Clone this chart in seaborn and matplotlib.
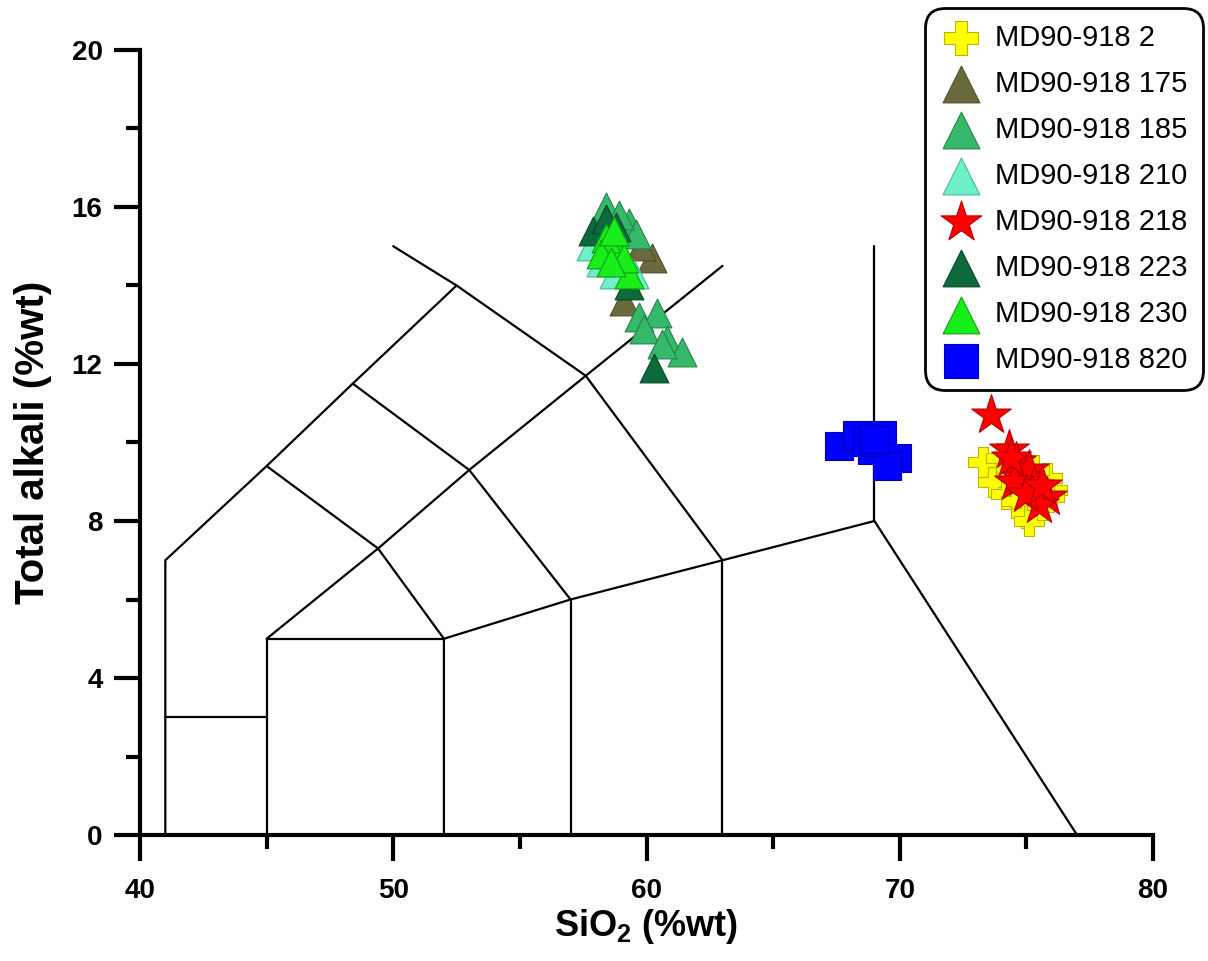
import matplotlib
matplotlib.use("Agg")
import matplotlib.pyplot as plt
import numpy as np
import pandas as pd
import seaborn as sns
from matplotlib.ticker import MultipleLocator

# ---------------------------
# Données
# ---------------------------
samples = ["MD90-918 2", "MD90-918 175", "MD90-918 185", "MD90-918 210",
           "MD90-918 218", "MD90-918 223", "MD90-918 230", "MD90-918 820"]

sio2_2 = [73.3, 73.7, 74.2, 74.6, 75.0, 75.1, 75.6, 76.0, 75.8, 74.4, 74.0, 75.3, 75.9]
alk_2 = [9.5, 9.0, 8.7, 8.5, 8.2, 8.0, 8.4, 8.8, 9.1, 9.3, 9.6, 9.3, 8.6]

sio2_175 = [60.2, 59.1, 59.8, 58.9]
alk_175 = [14.7, 13.6, 15.0, 14.6]

sio2_185 = [58.4, 59.3, 59.6, 59.7, 60.4, 59.9, 60.8, 61.4, 60.6, 58.9]
alk_185 = [16.0, 15.6, 15.3, 13.2, 13.3, 12.9, 12.6, 12.3, 12.5, 15.8]

sio2_210 = [57.8, 58.7, 59.5, 58.2]
alk_210 = [15.0, 14.3, 14.3, 14.6]

sio2_218 = [73.6, 74.3, 74.6, 74.8, 75.1, 75.3, 75.8, 75.5, 74.5, 75.0, 74.4, 75.6]
alk_218 = [10.7, 9.8, 9.5, 9.1, 9.3, 8.9, 8.6, 8.4, 9.0, 8.7, 9.6, 8.9]

sio2_223 = [57.9, 58.4, 60.3, 59.3, 58.8]
alk_223 = [15.4, 15.7, 11.9, 14.0, 15.5]

sio2_230 = [58.8, 58.4, 59.3, 58.2, 59.1, 58.7, 58.6]
alk_230 = [14.9, 15.2, 14.3, 14.8, 14.7, 15.4, 14.6]

sio2_820 = [67.6, 68.3, 69.3, 68.9, 69.9, 69.5, 68.7, 69.0]
alk_820 = [9.9, 10.2, 10.2, 9.8, 9.6, 9.4, 10.0, 10.1]

# limites des champs du diagramme TAS (Le Bas)
tas_lines = [
    [(41, 0), (41, 7), (45, 9.4), (48.4, 11.5), (52.5, 14)],
    [(41, 3), (45, 3)],
    [(45, 0), (45, 5), (52, 5)],
    [(45, 5), (49.4, 7.3), (53, 9.3), (57.6, 11.7), (63, 14.5)],
    [(52, 0), (52, 5), (57, 6), (63, 7), (69, 8), (77, 0)],
    [(57, 0), (57, 6)],
    [(63, 0), (63, 7)],
    [(69, 8), (69, 15)],
    [(45, 9.4), (49.4, 7.3), (52, 5)],
    [(48.4, 11.5), (53, 9.3), (57, 6)],
    [(50, 15), (52.5, 14), (57.6, 11.7), (63, 7)],
]

sio2 = [sio2_2, sio2_175, sio2_185, sio2_210, sio2_218, sio2_223, sio2_230, sio2_820]
alk = [alk_2, alk_175, alk_185, alk_210, alk_218, alk_223, alk_230, alk_820]
df = pd.concat([pd.DataFrame({"SiO2": x, "Alk": y, "sample": s})
                for x, y, s in zip(sio2, alk, samples)], ignore_index=True)

# style de chaque échantillon : (marqueur, remplissage, contour, taille, taille légende)
styles = {
    "MD90-918 2": ("P", "#ffff00", "#b8b800", 440, 620),
    "MD90-918 175": ("^", "#6b6a3c", "#4e4d2a", 430, 700),
    "MD90-918 185": ("^", "#36b86a", "#23864a", 430, 700),
    "MD90-918 210": ("^", "#6ff0c8", "#45b894", 430, 700),
    "MD90-918 218": ("*", "#ff0000", "#b00000", 900, 950),
    "MD90-918 223": ("^", "#0d6a3a", "#08472a", 430, 700),
    "MD90-918 230": ("^", "#1aee1a", "#0fa00f", 430, 700),
    "MD90-918 820": ("s", "#0000ff", "#0000b0", 420, 620),
}
draw_order = ["MD90-918 2", "MD90-918 820", "MD90-918 218", "MD90-918 175",
              "MD90-918 185", "MD90-918 210", "MD90-918 223", "MD90-918 230"]

sns.set_style("ticks")
plt.rcParams["font.family"] = ["Liberation Sans", "DejaVu Sans"]
plt.rcParams["mathtext.fontset"] = "custom"
plt.rcParams["mathtext.bf"] = "Liberation Sans:bold"
plt.rcParams["mathtext.rm"] = "Liberation Sans:bold"
for key in ["text.color", "axes.labelcolor", "xtick.color", "ytick.color", "axes.edgecolor"]:
    plt.rcParams[key] = "black"

fig = plt.figure(figsize=(12.08, 9.61), dpi=100)
ax = fig.add_axes([0.1159, 0.1311, 0.8386, 0.8169])

for seg in tas_lines:
    xs, ys = zip(*seg)
    ax.plot(xs, ys, color="black", lw=1.6, zorder=1)

for name in draw_order:
    m, fc, ec, s, _ = styles[name]
    sns.scatterplot(data=df[df["sample"] == name], x="SiO2", y="Alk", ax=ax,
                    marker=m, color=fc, edgecolor=ec, linewidth=0.8, s=s,
                    label=name, zorder=3)

ax.set_xlim(40, 80)
ax.set_ylim(0, 20)
ax.xaxis.set_major_locator(MultipleLocator(10))
ax.xaxis.set_minor_locator(MultipleLocator(5))
ax.yaxis.set_major_locator(MultipleLocator(4))
ax.yaxis.set_minor_locator(MultipleLocator(2))
sns.despine(ax=ax)
for sp in ["left", "bottom"]:
    ax.spines[sp].set_linewidth(3)
ax.tick_params(which="major", length=19, width=3)
ax.tick_params(which="minor", length=10, width=3)
ax.tick_params(axis="x", which="major", pad=12, labelsize=20)
ax.tick_params(axis="y", which="major", pad=8, labelsize=20)
for lab in ax.get_xticklabels() + ax.get_yticklabels():
    lab.set_fontweight("bold")

ax.set_xlabel(r"SiO$_\mathbf{2}$ (%wt)", fontsize=26, fontweight="bold", labelpad=2)
ax.set_ylabel("Total alkali (%wt)", fontsize=29, fontweight="bold", labelpad=14)

# légende dans l'ordre des échantillons
handles, labels = ax.get_legend_handles_labels()
lookup = dict(zip(labels, handles))
leg = ax.legend([lookup[n] for n in samples], samples,
                loc="upper right", bbox_to_anchor=(0.996, 0.992),
                bbox_transform=fig.transFigure, fontsize=21, frameon=True,
                fancybox=True, framealpha=1, edgecolor="black",
                labelspacing=0.62, handletextpad=0.45, borderpad=0.55,
                handlelength=1.4, borderaxespad=0)
for h, n in zip(leg.legend_handles, samples):
    h.set_sizes([styles[n][4]])
leg.get_frame().set_linewidth(2)
leg.get_frame().set_boxstyle("round,pad=0,rounding_size=0.7")

fig.savefig("out.png", dpi=100)
